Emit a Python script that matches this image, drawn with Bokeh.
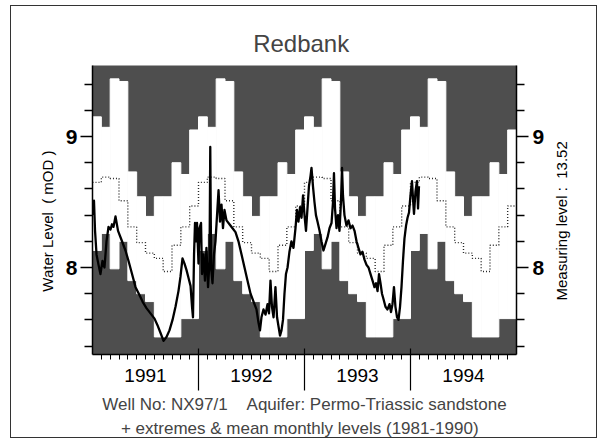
import numpy as np
from math import pi
from bokeh.plotting import figure
from bokeh.models import FixedTicker, LinearAxis, Range1d, Title
from bokeh.embed import file_html
from bokeh.resources import INLINE

# ---- data ----
months = ["Jan", "Feb", "Mar", "Apr", "May", "Jun", "Jul", "Aug", "Sep", "Oct", "Nov", "Dec"]
monthly_max = [9.15, 9.07, 9.44, 9.42, 8.73, 8.54, 8.39, 8.54, 8.54, 8.80, 8.71, 9.05]
monthly_min = [8.13, 8.26, 7.99, 8.20, 7.90, 7.80, 7.74, 7.47, 7.47, 7.47, 7.61, 7.61]
monthly_mean = [8.65, 8.69, 8.68, 8.51, 8.31, 8.19, 8.11, 8.07, 7.97, 8.17, 8.31, 8.47]
years = [1991, 1992, 1993, 1994]
year_labels = ["1991", "1992", "1993", "1994"]

obs_time = [
    1991.005, 1991.014, 1991.024, 1991.038, 1991.057, 1991.075, 1991.094, 1991.113, 1991.132,
    1991.151, 1991.170, 1991.184, 1991.198, 1991.217, 1991.241, 1991.274, 1991.311, 1991.340,
    1991.373, 1991.406, 1991.443, 1991.472, 1991.509, 1991.547, 1991.585, 1991.613, 1991.642,
    1991.670, 1991.698, 1991.726, 1991.755, 1991.783, 1991.811, 1991.830, 1991.849, 1991.868,
    1991.887, 1991.906, 1991.925, 1991.939, 1991.948, 1991.958, 1991.967, 1991.976, 1991.986,
    1992.000, 1992.009, 1992.024, 1992.033, 1992.047, 1992.061, 1992.075, 1992.090, 1992.104,
    1992.111, 1992.119, 1992.132, 1992.146, 1992.160, 1992.175, 1992.189, 1992.203, 1992.217,
    1992.231, 1992.245, 1992.264, 1992.292, 1992.321, 1992.349, 1992.377, 1992.406, 1992.434,
    1992.462, 1992.491, 1992.519, 1992.547, 1992.566, 1992.580, 1992.594, 1992.613, 1992.632,
    1992.651, 1992.665, 1992.679, 1992.693, 1992.708, 1992.726, 1992.741, 1992.755, 1992.769,
    1992.783, 1992.797, 1992.811, 1992.825, 1992.840, 1992.858, 1992.877, 1992.896, 1992.915,
    1992.929, 1992.943, 1992.958, 1992.972, 1992.986, 1993.000, 1993.014, 1993.028, 1993.042,
    1993.057, 1993.066, 1993.080, 1993.094, 1993.108, 1993.123, 1993.142, 1993.160, 1993.179,
    1993.198, 1993.217, 1993.236, 1993.255, 1993.269, 1993.278, 1993.288, 1993.302, 1993.316,
    1993.330, 1993.344, 1993.354, 1993.363, 1993.377, 1993.396, 1993.415, 1993.434, 1993.453,
    1993.472, 1993.491, 1993.509, 1993.528, 1993.547, 1993.566, 1993.585, 1993.604, 1993.623,
    1993.642, 1993.660, 1993.675, 1993.689, 1993.703, 1993.717, 1993.731, 1993.745, 1993.764,
    1993.783, 1993.802, 1993.816, 1993.830, 1993.844, 1993.858, 1993.873, 1993.887, 1993.901,
    1993.915, 1993.929, 1993.943, 1993.958, 1993.972, 1993.986, 1994.000, 1994.014, 1994.024,
    1994.033, 1994.047, 1994.061, 1994.071, 1994.080,
]
obs_level = [
    8.40, 8.51, 8.28, 8.10, 8.02, 7.95, 8.05, 8.00, 8.20,
    8.31, 8.29, 8.33, 8.31, 8.39, 8.28, 8.21, 8.13, 8.05,
    7.95, 7.85, 7.79, 7.74, 7.69, 7.65, 7.61, 7.56, 7.50,
    7.44, 7.47, 7.52, 7.60, 7.70, 7.82, 7.93, 8.07, 8.03,
    7.98, 7.92, 7.86, 7.70, 7.62, 8.10, 8.34, 8.20, 8.34,
    8.03, 8.30, 8.34, 7.95, 8.10, 7.90, 8.15, 7.85, 8.05,
    8.92, 8.00, 7.88, 8.10, 8.20, 8.40, 8.59, 8.35, 8.48,
    8.30, 8.44, 8.36, 8.33, 8.30, 8.27, 8.20, 8.10, 8.00,
    7.90, 7.80, 7.74, 7.68, 7.58, 7.52, 7.62, 7.68, 7.64,
    7.72, 7.65, 7.90, 7.70, 7.62, 7.85, 7.62, 7.55, 7.48,
    7.52, 7.60, 7.80, 7.95, 8.00, 8.12, 8.20, 8.15, 8.30,
    8.44, 8.35, 8.46, 8.38, 8.55, 8.40, 8.28, 8.45, 8.62,
    8.70, 8.76, 8.62, 8.50, 8.40, 8.35, 8.28, 8.20, 8.13,
    8.18, 8.23, 8.30, 8.34, 8.50, 8.72, 8.45, 8.30, 8.40,
    8.28, 8.50, 8.76, 8.55, 8.40, 8.32, 8.36, 8.30, 8.32,
    8.28, 8.20, 8.15, 8.10, 8.12, 8.06, 8.02, 8.00, 7.95,
    7.90, 7.85, 7.88, 7.82, 7.95, 7.88, 7.80, 7.76, 7.70,
    7.68, 7.72, 7.66, 7.72, 7.85, 7.70, 7.62, 7.60, 7.70,
    7.85, 8.05, 8.22, 8.32, 8.38, 8.42, 8.55, 8.66, 8.52,
    8.41, 8.58, 8.66, 8.45, 8.62,
]

FONT = "Liberation Sans"
GRAY = "#4e4e4e"
NB = "\u00a0"
LEFT_LABEL = "Water Level" + NB + NB + "(" + NB + "mOD" + NB + ")"
RIGHT_LABEL = "Measuring level :" + NB + NB + "13.52"

# ---- monthly climatology repeated over the plotted years ----
n_years = len(years)
m_left = np.array([years[0] + k / 12.0 for k in range(12 * n_years)])
m_right = m_left + 1.0 / 12.0
m_top = np.tile(monthly_max, n_years)
m_bot = np.tile(monthly_min, n_years)
m_mean = np.tile(monthly_mean, n_years)

p = figure(
    frame_width=424, frame_height=289,
    x_range=Range1d(1991, 1995), y_range=Range1d(7.336, 9.542),
    output_backend="svg", toolbar_location=None,
    min_border_left=81, min_border_right=80, min_border_top=59, min_border_bottom=83,
    background_fill_color=GRAY, border_fill_color="white", outline_line_color=None,
)
p.styles = {"border": "1px solid #333333", "margin": "5px 0px 0px 10px"}
p.xgrid.grid_line_color = None
p.ygrid.grid_line_color = None

# title
p.title.text = "Redbank" + NB
p.title.align = "center"
p.title.text_font = FONT
p.title.text_font_size = "24px"
p.title.text_font_style = "normal"
p.title.standoff = 17

# white band between monthly extremes
p.quad(left=m_left, right=m_right, bottom=m_bot, top=m_top,
       fill_color="white", line_color="white", line_width=1)

# mean monthly level (dotted step line)
step_x = np.append(m_left, m_right[-1])
step_y = np.append(m_mean, m_mean[-1])
p.step(step_x, step_y, mode="after", line_color="#2a2a2a", line_width=1.4, line_dash="1 2")

# observed levels
p.line(obs_time, obs_level, line_color="black", line_width=2.3, line_join="round")

# ---- y axes ----
y_ticker = FixedTicker(ticks=[8, 9], minor_ticks=[7.4, 7.6, 7.8, 8.2, 8.4, 8.6, 8.8, 9.2, 9.4])

def style_y(ax, lab_standoff):
    ax.ticker = y_ticker
    ax.axis_line_width = 1.5
    ax.major_tick_out = 12
    ax.major_tick_in = 0
    ax.minor_tick_out = 8
    ax.minor_tick_in = 0
    ax.major_tick_line_width = 1.5
    ax.minor_tick_line_width = 1.3
    ax.major_label_text_font = FONT
    ax.major_label_text_font_style = "bold"
    ax.major_label_text_font_size = "21px"
    ax.major_label_standoff = lab_standoff
    ax.major_label_text_color = "black"

style_y(p.yaxis[0], 3)
right_ax = LinearAxis()
style_y(right_ax, 4)
p.add_layout(right_ax, "right")

# vertical axis titles, drawn as rotated single tick labels (reading bottom-to-top)
def title_axis(text, at, standoff):
    ax = LinearAxis(ticker=FixedTicker(ticks=[at], minor_ticks=[]))
    ax.major_label_overrides = {at: text}
    ax.major_label_orientation = pi / 2
    ax.major_label_text_font = FONT
    ax.major_label_text_font_size = "15px"
    ax.major_label_text_color = "black"
    ax.major_label_standoff = standoff
    ax.axis_line_color = None
    ax.major_tick_line_color = None
    ax.major_tick_out = 0
    ax.major_tick_in = 0
    ax.minor_tick_out = 0
    ax.minor_tick_in = 0
    return ax

p.add_layout(title_axis(LEFT_LABEL, 8.893, 15), "left")
p.add_layout(title_axis(RIGHT_LABEL, 7.748, 14), "right")

# ---- x axes: year labels + monthly minor ticks, and long year-boundary ticks ----
xa = p.xaxis[0]
xa.ticker = FixedTicker(ticks=[y + 0.5 for y in years],
                        minor_ticks=[years[0] + k / 12.0 for k in range(1, 12 * n_years)])
xa.major_label_overrides = {y + 0.5: lab for y, lab in zip(years, year_labels)}
xa.axis_line_width = 1.5
xa.major_tick_out = 0
xa.major_tick_in = 0
xa.major_tick_line_color = None
xa.minor_tick_out = 5
xa.minor_tick_in = 0
xa.minor_tick_line_width = 1.0
xa.major_label_text_font = FONT
xa.major_label_text_font_size = "19px"
xa.major_label_text_color = "black"
xa.major_label_standoff = 9

xb = LinearAxis(ticker=FixedTicker(ticks=years[1:], minor_ticks=[]))
xb.major_label_overrides = {y: "" for y in years[1:]}
xb.axis_line_color = None
xb.major_tick_in = 36
xb.major_tick_out = 6
xb.major_tick_line_width = 1.2
xb.minor_tick_in = 0
xb.minor_tick_out = 0
xb.major_label_standoff = 0
p.add_layout(xb, "below")

# ---- caption lines ----
t1 = Title(text="Well No: NX97/1" + NB + NB + NB + NB + "Aquifer: Permo-Triassic sandstone",
           align="center", text_font=FONT, text_font_size="17px",
           text_font_style="normal", standoff=5)
t2 = Title(text="+ extremes & mean monthly levels (1981-1990)" + NB + NB,
           align="center", text_font=FONT, text_font_size="17px",
           text_font_style="normal", standoff=0)
p.add_layout(t1, "below")
p.add_layout(t2, "below")

open("out.html", "w").write(file_html(p, INLINE))
